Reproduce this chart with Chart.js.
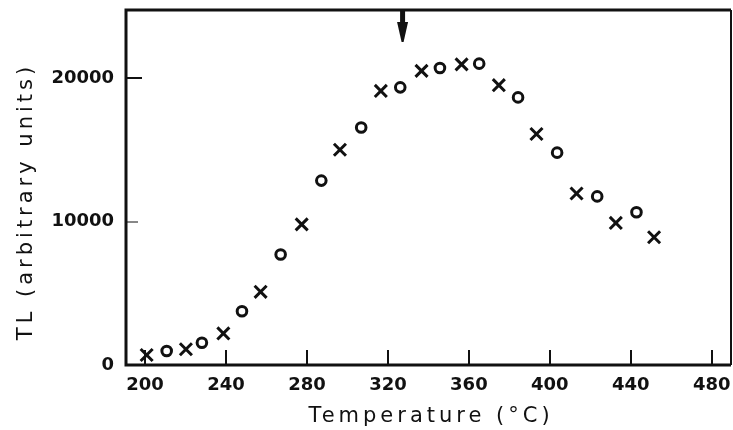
<!DOCTYPE html>
<html>
<head>
<meta charset="utf-8">
<title>TL glow curve</title>
<script src="https://cdn.jsdelivr.net/npm/chart.js@4.4.1/dist/chart.umd.min.js"></script>
<style>
    html, body { margin: 0; padding: 0; background: #fff; }
    #wrap { width: 733px; height: 430px; position: relative; }
</style>
</head>
<body>
<div id="wrap"><canvas id="tl_chart"></canvas></div>
<script>
// values
const crossTemps = [200.8, 220.2, 238.7, 257.1, 277.4, 296.3, 316.5, 336.6, 356.4, 374.8, 393.4, 413.2, 432.6, 451.5];
const crossValues = [700, 1100, 2200, 5100, 9800, 15000, 19100, 20500, 20950, 19500, 16100, 11950, 9900, 8900];
const circleTemps = [210.7, 228.1, 247.9, 267.0, 287.1, 306.8, 326.1, 345.7, 365.1, 384.3, 403.6, 423.4, 442.8];
const circleValues = [980, 1550, 3750, 7700, 12850, 16550, 19350, 20700, 21000, 18650, 14800, 11750, 10650];
const xTicks = [200, 240, 280, 320, 360, 400, 440, 480];
const yTicks = [0, 10000, 20000];
const arrowTemp = 327;
const xTitle = "Temperature (°C)";
const yTitle = "TL (arbitrary units)";

const INK = "#111";
const LABEL_FONT = { family: "'DejaVu Sans', sans-serif", size: 18, weight: "bold" };

function toPoints(xs, ys) {
    return xs.map((x, i) => ({ x: x, y: ys[i] }));
}

// keep the plot box where the figure has it, labels may overhang
function noScalePadding(scale) {
    scale.paddingLeft = 0;
    scale.paddingRight = 0;
    scale.paddingTop = 0;
    scale.paddingBottom = 0;
}

// frame, inward ticks, arrow and axis titles
const figurePlugin = {
    id: "figure",
    afterDraw(chart) {
        const { ctx, chartArea: a, scales } = chart;
        const xs = scales.x;
        const ys = scales.y;
        ctx.save();
        ctx.strokeStyle = INK;
        ctx.lineCap = "butt";

        // inward ticks on the bottom axis
        ctx.lineWidth = 2;
        xTicks.forEach((t) => {
            const px = Math.round(xs.getPixelForValue(t));
            ctx.beginPath();
            ctx.moveTo(px, a.bottom);
            ctx.lineTo(px, a.bottom - 15);
            ctx.stroke();
        });
        // inward ticks on the left axis
        [[20000, 2, 16], [10000, 1, 12]].forEach(([v, w, len]) => {
            const py = Math.round(ys.getPixelForValue(v));
            ctx.lineWidth = w;
            ctx.beginPath();
            ctx.moveTo(a.left, py);
            ctx.lineTo(a.left + len, py);
            ctx.stroke();
        });

        // box
        ctx.lineWidth = 3;
        ctx.beginPath();
        ctx.moveTo(a.right - 1, a.top);
        ctx.lineTo(a.left, a.top);
        ctx.lineTo(a.left, a.bottom);
        ctx.lineTo(a.right - 1, a.bottom);
        ctx.stroke();
        ctx.lineWidth = 2;
        ctx.beginPath();
        ctx.moveTo(a.right - 1, a.top);
        ctx.lineTo(a.right - 1, a.bottom);
        ctx.stroke();

        // arrow marking the peak
        const ax = xs.getPixelForValue(arrowTemp);
        ctx.fillStyle = INK;
        ctx.fillRect(ax - 2, a.top, 5, 14);
        ctx.beginPath();
        ctx.moveTo(ax - 5, a.top + 12);
        ctx.lineTo(ax + 6, a.top + 12);
        ctx.lineTo(ax + 1.5, a.top + 32);
        ctx.lineTo(ax - 0.5, a.top + 32);
        ctx.closePath();
        ctx.fill();

        // axis titles, spaced out like the original lettering
        ctx.fillStyle = INK;
        ctx.font = "21px 'DejaVu Sans', sans-serif";
        ctx.letterSpacing = "4px";
        ctx.textAlign = "center";
        ctx.textBaseline = "alphabetic";
        ctx.fillText(xTitle, (a.left + a.right) / 2 + 2, 422);

        ctx.translate(32, (a.top + a.bottom) / 2 + 14);
        ctx.rotate(-Math.PI / 2);
        ctx.fillText(yTitle, 0, 0);
        ctx.restore();
    },
};

const chart = new Chart(document.getElementById("tl_chart"), {
    type: "scatter",
    data: {
        datasets: [
            {
                label: "x",
                data: toPoints(crossTemps, crossValues),
                pointStyle: "crossRot",
                pointRadius: 8.5,
                borderWidth: 3,
                borderColor: INK,
                backgroundColor: INK,
            },
            {
                label: "o",
                data: toPoints(circleTemps, circleValues),
                pointStyle: "circle",
                pointRadius: 4.8,
                borderWidth: 3,
                borderColor: INK,
                backgroundColor: "#fff",
            },
        ],
    },
    options: {
        responsive: true,
        maintainAspectRatio: false,
        animation: false,
        layout: { autoPadding: false, padding: { top: 10, right: 1, left: 0, bottom: 0 } },
        plugins: {
            legend: { display: false },
            tooltip: { enabled: false },
        },
        scales: {
            x: {
                type: "linear",
                min: 190.6,
                max: 490,
                afterBuildTicks: (scale) => { scale.ticks = xTicks.map((v) => ({ value: v })); },
                afterFit: (scale) => { scale.height = 65; noScalePadding(scale); },
                grid: { display: false, drawTicks: false },
                border: { display: false },
                ticks: { color: INK, font: LABEL_FONT, padding: 10, maxRotation: 0 },
            },
            y: {
                type: "linear",
                min: 0,
                max: 24740,
                afterBuildTicks: (scale) => { scale.ticks = yTicks.map((v) => ({ value: v })); },
                afterFit: (scale) => { scale.width = 126; noScalePadding(scale); },
                grid: { display: false, drawTicks: false },
                border: { display: false },
                ticks: { color: INK, font: LABEL_FONT, padding: 12, callback: (v) => String(v) },
            },
        },
    },
    plugins: [figurePlugin],
});
</script>
</body>
</html>
